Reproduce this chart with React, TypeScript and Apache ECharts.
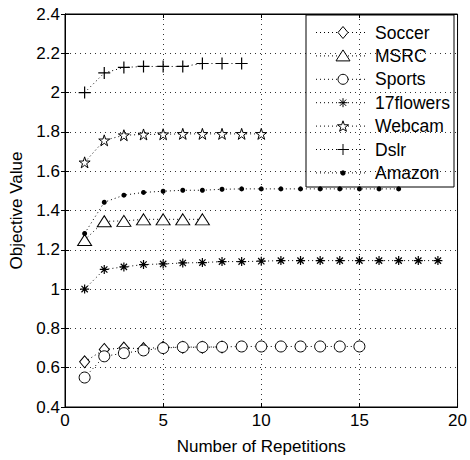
import React, { useEffect, useRef } from "react";
import * as echarts from "echarts";

const reps = [1, 2, 3, 4, 5, 6, 7, 8, 9, 10, 11, 12, 13, 14, 15, 16, 17, 18, 19];

const soccer = [0.63, 0.693, 0.7, 0.697, 0.704, 0.704, 0.704, 0.705];
const msrc = [1.25, 1.345, 1.347, 1.355, 1.355, 1.355, 1.355];
const sports = [0.55, 0.658, 0.674, 0.688, 0.7, 0.705, 0.705, 0.706, 0.708, 0.708, 0.708, 0.708, 0.708, 0.708, 0.708];
const flowers17 = [1.0, 1.1, 1.113, 1.125, 1.128, 1.133, 1.135, 1.14, 1.14, 1.142, 1.145, 1.145, 1.145, 1.145, 1.145, 1.145, 1.145, 1.145, 1.145];
const webcam = [1.645, 1.757, 1.783, 1.787, 1.788, 1.79, 1.79, 1.79, 1.79, 1.79];
const dslr = [2.0, 2.1, 2.128, 2.133, 2.133, 2.133, 2.148, 2.148, 2.148];
const amazon = [1.283, 1.442, 1.478, 1.492, 1.498, 1.503, 1.503, 1.508, 1.51, 1.51, 1.51, 1.51, 1.51, 1.51, 1.51, 1.51, 1.51];

const seriesNames = ["Soccer", "MSRC", "Sports", "17flowers", "Webcam", "Dslr", "Amazon"];
const markerKinds = ["diamond", "triangle", "circle", "asterisk", "star", "plus", "dot"];
const xTicks = [0, 20, 5];
const yTicks = [0.4, 2.4, 0.2];

const FONT = "'Liberation Sans', Arial, Helvetica, sans-serif";

const STAR =
  "path://M50,0L61.8,36.2L100,36.2L69.1,58.6L80.9,95L50,72.6L19.1,95L30.9,58.6L0,36.2L38.2,36.2Z";
const PLUS = "path://M50,0L50,100M0,50L100,50";
const ASTER = "path://M50,0L50,100M0,50L100,50M15,15L85,85M85,15L15,85";

function toPairs(vals: number[]) {
  return vals.map((v, i) => [reps[i], v]);
}

const stroke = { stroke: "#000", lineWidth: 1 };

function legendMarker(kind: string, cx: number, cy: number): any[] {
  const hollow = { fill: "#fff", stroke: "#000", lineWidth: 1 };
  switch (kind) {
    case "diamond":
      return [{ type: "polygon", shape: { points: [[cx, cy - 6], [cx + 5, cy], [cx, cy + 6], [cx - 5, cy]] }, style: hollow }];
    case "triangle":
      return [{ type: "polygon", shape: { points: [[cx, cy - 6], [cx + 7, cy + 5], [cx - 7, cy + 5]] }, style: hollow }];
    case "circle":
      return [{ type: "circle", shape: { cx, cy, r: 5 }, style: hollow }];
    case "dot":
      return [{ type: "circle", shape: { cx, cy, r: 2.6 }, style: { fill: "#000" } }];
    case "plus":
      return [
        { type: "line", shape: { x1: cx - 5.5, y1: cy, x2: cx + 5.5, y2: cy }, style: stroke },
        { type: "line", shape: { x1: cx, y1: cy - 5.5, x2: cx, y2: cy + 5.5 }, style: stroke },
      ];
    case "asterisk":
      return [
        { type: "line", shape: { x1: cx - 4.5, y1: cy, x2: cx + 4.5, y2: cy }, style: stroke },
        { type: "line", shape: { x1: cx, y1: cy - 4.5, x2: cx, y2: cy + 4.5 }, style: stroke },
        { type: "line", shape: { x1: cx - 3.2, y1: cy - 3.2, x2: cx + 3.2, y2: cy + 3.2 }, style: stroke },
        { type: "line", shape: { x1: cx + 3.2, y1: cy - 3.2, x2: cx - 3.2, y2: cy + 3.2 }, style: stroke },
      ];
    case "star": {
      const pts: number[][] = [];
      for (let k = 0; k < 10; k++) {
        const r = k % 2 === 0 ? 5.8 : 2.3;
        const a = -Math.PI / 2 + (k * Math.PI) / 5;
        pts.push([cx + r * Math.cos(a), cy + 0.5 + r * Math.sin(a)]);
      }
      return [{ type: "polygon", shape: { points: pts }, style: hollow }];
    }
  }
  return [];
}

export default function App() {
  const ref = useRef<HTMLDivElement>(null);
  useEffect(() => {
    if (!ref.current) return;
    const chart = echarts.init(ref.current, undefined, { renderer: "svg" });
    const lineStyle = { color: "#000", width: 1, type: [1, 3] as any };
    const hollow = { color: "#fff", borderColor: "#000", borderWidth: 1 };
    const mk = (name: string, vals: number[], symbol: string, size: any, itemStyle: any) => ({
      type: "line",
      name,
      data: toPairs(vals),
      symbol,
      symbolSize: size,
      showAllSymbol: true,
      lineStyle,
      itemStyle,
      emphasis: { disabled: true },
      z: 3,
    });
    const series = [
      mk(seriesNames[0], soccer, "diamond", [10, 12], hollow),
      mk(seriesNames[1], msrc, "triangle", [14, 11], hollow),
      mk(seriesNames[2], sports, "circle", 11, hollow),
      mk(seriesNames[3], flowers17, ASTER, 9, { color: "none", borderColor: "#000", borderWidth: 1.2 }),
      mk(seriesNames[4], webcam, STAR, 11, hollow),
      mk(seriesNames[5], dslr, PLUS, 12, { color: "none", borderColor: "#000", borderWidth: 1.2 }),
      mk(seriesNames[6], amazon, "circle", 5, { color: "#000", borderColor: "#000", borderWidth: 0 }),
    ];

    // legend box drawn with graphic elements
    const lgLeft = 306, lgTop = 15, lgW = 148, lgH = 172;
    const legendChildren: any[] = [
      { type: "rect", shape: { x: lgLeft, y: lgTop, width: lgW, height: lgH }, style: { fill: "#fff", stroke: "#000", lineWidth: 1 } },
    ];
    seriesNames.forEach((name, i) => {
      const cy = 32.5 + i * 23.4;
      const cx = 343;
      legendChildren.push({
        type: "line",
        shape: { x1: 316, y1: cy, x2: 368, y2: cy },
        style: { stroke: "#000", lineWidth: 1, lineDash: [1, 3] },
      });
      legendChildren.push(...legendMarker(markerKinds[i], cx, cy));
      legendChildren.push({
        type: "text",
        x: 375,
        y: cy,
        style: { text: name, fill: "#000", font: `17.5px ${FONT}`, textVerticalAlign: "middle", verticalAlign: "middle" },
      });
    });

    const gridLine = { show: true, lineStyle: { color: "#000", width: 0.8, type: [1, 4] as any } };
    const tick = { show: true, inside: true, length: 4, lineStyle: { color: "#000" } };
    const common = { min: xTicks[0], max: xTicks[1], interval: xTicks[2] };
    const ycommon = { min: yTicks[0], max: yTicks[1], interval: yTicks[2] };
    chart.setOption({
      animation: false,
      backgroundColor: "#fff",
      textStyle: { fontFamily: FONT },
      grid: { left: 65, right: 11, top: 14, bottom: 46, show: true, borderColor: "#000", borderWidth: 1, backgroundColor: "transparent" },
      graphic: [{ type: "group", z: 100, children: legendChildren }],
      xAxis: [
        {
          type: "value",
          ...common,
          position: "bottom",
          name: "Number of Repetitions",
          nameLocation: "middle",
          nameGap: 31,
          nameTextStyle: { fontSize: 17, color: "#000", fontFamily: FONT },
          axisLine: { show: true, lineStyle: { color: "#000" } },
          axisTick: tick,
          axisLabel: { fontSize: 17, color: "#000", margin: 5, fontFamily: FONT },
          splitLine: gridLine,
        },
        {
          type: "value",
          ...common,
          position: "top",
          axisLine: { show: true, lineStyle: { color: "#000" } },
          axisTick: tick,
          axisLabel: { show: false },
          splitLine: { show: false },
        },
      ],
      yAxis: [
        {
          type: "value",
          ...ycommon,
          position: "left",
          name: "Objective Value",
          nameLocation: "middle",
          nameGap: 40,
          nameTextStyle: { fontSize: 17, color: "#000", fontFamily: FONT },
          axisLine: { show: true, lineStyle: { color: "#000" } },
          axisTick: tick,
          axisLabel: { fontSize: 17, color: "#000", margin: 5, fontFamily: FONT },
          splitLine: gridLine,
        },
        {
          type: "value",
          ...ycommon,
          position: "right",
          axisLine: { show: true, lineStyle: { color: "#000" } },
          axisTick: tick,
          axisLabel: { show: false },
          splitLine: { show: false },
        },
      ],
      series,
    });
    return () => chart.dispose();
  }, []);
  return <div ref={ref} style={{ width: 470, height: 460, position: "absolute", left: 0, top: 0 }} />;
}
